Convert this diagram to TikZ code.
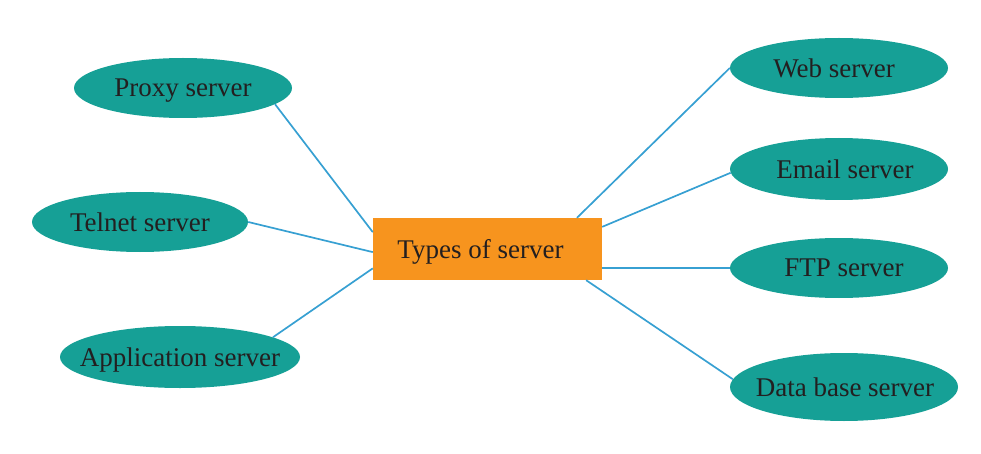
\documentclass[tikz,border=0pt]{standalone}
\usepackage{fontspec}
\setmainfont{Liberation Serif}
\usetikzlibrary{shapes.geometric,calc}
\definecolor{tealfill}{RGB}{22,160,150}
\definecolor{orangefill}{RGB}{247,148,30}
\definecolor{linkblue}{RGB}{55,160,210}
\definecolor{txt}{RGB}{35,31,32}
\tikzset{
  srv/.style={ellipse, fill=tealfill, draw=none, inner xsep=-22pt, inner ysep=0pt, text depth=0pt, minimum width=218pt, minimum height=60pt, text=txt, font=\fontsize{27}{30}\selectfont},
  hub/.style={rectangle, fill=orangefill, draw=none, inner sep=0pt, text depth=0pt, minimum width=229pt, minimum height=62pt, text=txt, font=\fontsize{27}{30}\selectfont},
  link/.style={draw=linkblue, line width=1.7pt}
}
\begin{document}
\begin{tikzpicture}[x=1pt,y=-1pt]
\useasboundingbox (0,0) rectangle (981,454);
\node[hub] (types) at (487.5,249) {\hspace*{-14pt}Types of server};
\node[srv] (proxy) at (183,88) {Proxy server};
\node[srv, minimum width=216pt] (telnet) at (140,222) {Telnet server};
\node[srv, minimum width=240pt, minimum height=62pt] (app) at (180,357) {Application server};
\node[srv] (web) at (839,68) {\hspace*{-10pt}Web server};
\node[srv, minimum height=62pt] (email) at (839,169) {\hspace*{12pt}Email server};
\node[srv] (ftp) at (839,268) {\hspace*{10pt}FTP server};
\node[srv, minimum width=228pt, minimum height=68pt] (db) at (844,387) {\hspace*{2pt}Data base server};
\draw[link] ($(types.north west)!0.23!(types.south west)$) -- (proxy.-10);
\draw[link] ($(types.north west)!0.55!(types.south west)$) -- (telnet.east);
\draw[link] ($(types.north west)!0.81!(types.south west)$) -- (app.12);
\draw[link] ($(types.north west)!0.89!(types.north east)$) -- (web.west);
\draw[link] ($(types.north east)!0.145!(types.south east)$) -- (email.182);
\draw[link] ($(types.north east)!0.806!(types.south east)$) -- (ftp.west);
\draw[link] ($(types.south west)!0.93!(types.south east)$) -- (db.176);
\end{tikzpicture}
\end{document}
